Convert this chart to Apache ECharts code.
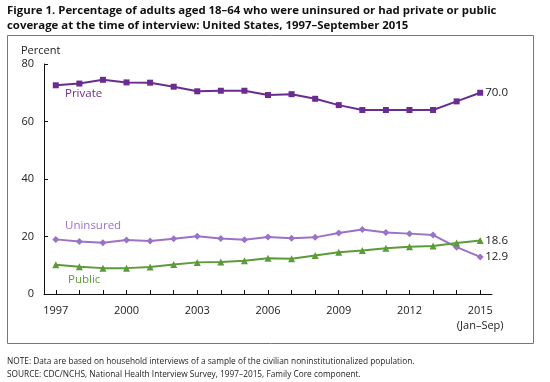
<!DOCTYPE html>
<html><head><meta charset="utf-8">
<script src="https://cdn.jsdelivr.net/npm/echarts@6/dist/echarts.min.js"></script>
<style>html,body{margin:0;padding:0;background:#fff}#c{width:550px;height:382px}</style>
</head><body><div id="c"></div>
<script>
const years = ['1997','1998','1999','2000','2001','2002','2003','2004','2005','2006','2007','2008','2009','2010','2011','2012','2013','2014','2015'];
const privateVals = [72.6,73.2,74.5,73.6,73.5,72.1,70.5,70.7,70.7,69.2,69.5,67.9,65.7,64.0,64.0,64.0,64.0,67.0,70.0];
const uninsuredVals = [19.0,18.3,17.8,18.8,18.4,19.2,20.1,19.3,18.9,19.8,19.4,19.7,21.2,22.4,21.4,21.0,20.5,16.3,12.9];
const publicVals = [10.2,9.5,9.0,9.0,9.4,10.3,11.0,11.1,11.6,12.4,12.3,13.4,14.5,15.1,15.9,16.4,16.7,17.7,18.6];
const yTicks = [0,20,40,60,80];

const FONT = '"Open Sans", sans-serif';
const cPriv = '#6a2c91', cUnins = '#9b72c6', cPub = '#5b9b38';

const chart = echarts.init(document.getElementById('c'), null, {renderer:'canvas'});
function endLabel(){
  return {show:true, formatter: p => Number(p.value).toFixed(1), color:'#222', fontFamily:FONT, fontSize:11.5, distance:5};
}
chart.setOption({
  animation:false,
  grid:{left:44, right:58, top:64, bottom:88},
  xAxis:{type:'category', data:years, boundaryGap:true,
    axisLine:{lineStyle:{color:'#111', width:1}},
    axisTick:{show:true, inside:true, length:4, alignWithLabel:true, interval:0, lineStyle:{color:'#111'}},
    axisLabel:{interval:2, color:'#222', fontFamily:FONT, fontSize:11, margin:9,
      formatter: v => v === '2015' ? '2015\n(Jan–Sep)' : v, lineHeight:15}
  },
  yAxis:{type:'value', min:yTicks[0], max:yTicks[yTicks.length-1], interval:20,
    axisLine:{show:true, lineStyle:{color:'#111', width:1}},
    axisTick:{show:true, inside:true, length:4, lineStyle:{color:'#111'}},
    splitLine:{show:false},
    axisLabel:{color:'#222', fontFamily:FONT, fontSize:11, margin:10}
  },
  series:[
    {name:'Private', type:'line', data:privateVals, symbol:'rect', symbolSize:6,
     lineStyle:{color:cPriv, width:2}, itemStyle:{color:cPriv},
     endLabel:endLabel()},
    {name:'Uninsured', type:'line', data:uninsuredVals, symbol:'diamond', symbolSize:7,
     lineStyle:{color:cUnins, width:2}, itemStyle:{color:cUnins},
     endLabel:endLabel()},
    {name:'Public', type:'line', data:publicVals, symbol:'triangle', symbolSize:7,
     lineStyle:{color:cPub, width:2}, itemStyle:{color:cPub},
     endLabel:endLabel()}
  ],
  graphic:[
    {type:'rect', shape:{x:7.5, y:35.5, width:526, height:308}, style:{fill:'none', stroke:'#777', lineWidth:1}, z:-1},
    {type:'text', left:7, top:3, style:{text:'Figure 1. Percentage of adults aged 18–64 who were uninsured or had private or public\ncoverage at the time of interview: United States, 1997–September 2015',
      font:'bold 11.4px '+FONT, fill:'#111', lineHeight:15}},
    {type:'text', left:21, top:45, style:{text:'Percent', font:'11px '+FONT, fill:'#222'}},
    {type:'text', left:65, top:88, style:{text:'Private', font:'11.5px '+FONT, fill:cPriv}},
    {type:'text', left:65, top:220, style:{text:'Uninsured', font:'11.5px '+FONT, fill:cUnins}},
    {type:'text', left:68, top:274, style:{text:'Public', font:'11.5px '+FONT, fill:cPub}},
    {type:'text', left:7, top:355, style:{text:'NOTE: Data are based on household interviews of a sample of the civilian noninstitutionalized population.\nSOURCE: CDC/NCHS, National Health Interview Survey, 1997–2015, Family Core component.',
      font:'8.3px '+FONT, fill:'#222', lineHeight:13}}
  ]
});
</script></body></html>
